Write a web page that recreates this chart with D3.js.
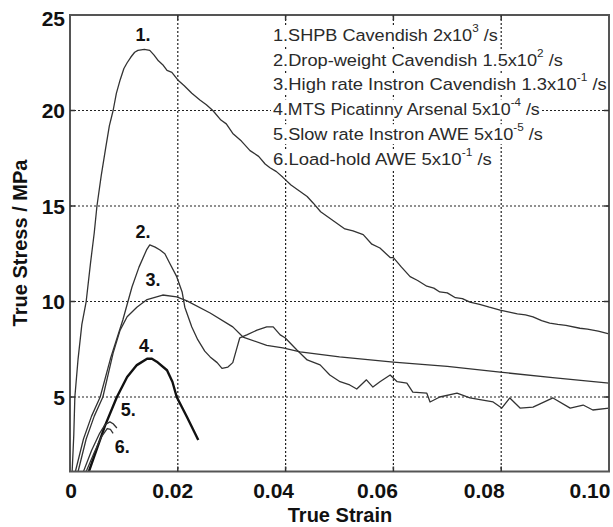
<!DOCTYPE html>
<html><head><meta charset="utf-8">
<script src="https://cdn.jsdelivr.net/npm/d3@7"></script>
<style>body{margin:0;background:#fff}svg{display:block}</style></head>
<body><svg id="c" width="613" height="527"></svg>
<script>
const xTicks = [0, 0.02, 0.04, 0.06, 0.08, 0.10];
const xTickLabels = ["0", "0.02", "0.04", "0.06", "0.08", "0.10"];
const yTicks = [5, 10, 15, 20, 25];
const yTickLabels = ["5", "10", "15", "20", "25"];
const curveNames = ["1.", "2.", "3.", "4.", "5.", "6."];
const xTitle = "True Strain";
const yTitle = "True Stress / MPa";

const curve1 = [[0.0004,1.1],[0.0007,3],[0.0009,5],[0.0015,7],[0.0022,8.8],[0.003,10],[0.0038,12],[0.0045,13.6],[0.005,15],[0.0058,16.6],[0.0066,18],[0.0073,19.2],[0.008,20],[0.0086,20.9],[0.0093,21.6],[0.01,22.2],[0.0106,22.5],[0.0113,22.8],[0.012,23.05],[0.0126,23.15],[0.0138,23.2],[0.0148,23.15],[0.0156,22.9],[0.0164,22.6],[0.0172,22.4],[0.018,22.1],[0.0189,22.0],[0.02,21.6],[0.0212,21.3],[0.0226,20.9],[0.0241,20.55],[0.0253,20.3],[0.0265,20.0],[0.028,19.5],[0.029,19.3],[0.0302,18.8],[0.0318,18.4],[0.0334,17.9],[0.035,17.6],[0.0362,17.2],[0.0371,17.0],[0.0383,16.8],[0.0395,16.5],[0.041,16.1],[0.0425,15.8],[0.044,15.5],[0.0451,15.16],[0.0465,14.7],[0.048,14.4],[0.0495,14.1],[0.051,13.8],[0.0525,13.7],[0.0544,13.5],[0.056,13.0],[0.0575,12.8],[0.0594,12.3],[0.06,12.3],[0.0615,11.8],[0.0631,11.3],[0.0645,11.1],[0.0662,10.8],[0.0675,10.7],[0.0686,10.5],[0.07,10.45],[0.0715,10.2],[0.0728,10.15],[0.0742,9.97],[0.076,9.85],[0.0778,9.7],[0.0798,9.55],[0.0815,9.45],[0.083,9.35],[0.0845,9.3],[0.0859,9.2],[0.0875,9.0],[0.089,8.87],[0.0905,8.8],[0.092,8.75],[0.0946,8.6],[0.096,8.55],[0.098,8.45],[0.1,8.3]];
const curve2 = [[0.001,1.1],[0.0025,2.8],[0.004,4.0],[0.0056,5.0],[0.0075,7.0],[0.0098,9.03],[0.0115,10.76],[0.0128,11.8],[0.0142,12.7],[0.0148,12.96],[0.0158,12.85],[0.0167,12.7],[0.0176,12.5],[0.0185,12.0],[0.0198,11.3],[0.0208,10.5],[0.0213,9.7],[0.0226,8.67],[0.0237,8.0],[0.025,7.4],[0.026,7.1],[0.0273,6.8],[0.0282,6.5],[0.0293,6.57],[0.0302,6.8],[0.0311,7.7],[0.0315,8.1],[0.0328,8.25],[0.0347,8.5],[0.0365,8.67],[0.0377,8.67],[0.039,8.25],[0.0399,8.1],[0.0421,7.46],[0.044,6.94],[0.0464,6.68],[0.0482,6.15],[0.0501,5.8],[0.0519,5.63],[0.0532,5.42],[0.055,5.9],[0.0562,5.52],[0.0575,5.8],[0.0594,6.15],[0.0607,5.8],[0.0625,5.73],[0.0636,5.26],[0.0662,5.2],[0.0668,4.74],[0.0686,5.0],[0.0718,5.2],[0.0742,4.95],[0.0766,4.84],[0.0785,4.74],[0.0801,4.42],[0.0816,4.95],[0.0835,4.42],[0.0859,4.47],[0.0896,4.95],[0.0928,4.42],[0.0952,4.58],[0.097,4.32],[0.1,4.42]];
const curve3 = [[0.0015,1.1],[0.003,2.8],[0.0045,4.0],[0.0061,5.0],[0.008,7.3],[0.0093,8.5],[0.0106,9.2],[0.0124,9.7],[0.0143,10.1],[0.0172,10.34],[0.0198,10.24],[0.0217,10.03],[0.026,9.4],[0.0302,8.67],[0.0321,8.14],[0.0365,7.7],[0.0395,7.57],[0.0427,7.36],[0.05,7.1],[0.06,6.83],[0.07,6.6],[0.0798,6.3],[0.09,6.0],[0.1,5.73]];
const curve4 = [[0.0035,1.1],[0.005,2.3],[0.0065,3.5],[0.0087,5.0],[0.0106,6.05],[0.0124,6.67],[0.0143,7.0],[0.0152,7.0],[0.0161,6.85],[0.018,6.4],[0.019,5.8],[0.0198,5.0],[0.0217,3.95],[0.0238,2.75]];
const curve5 = [[0.0025,1.1],[0.004,2.2],[0.0055,3.1],[0.0065,3.55],[0.0074,3.7],[0.008,3.6],[0.0087,3.38]];
const curve6 = [[0.003,1.1],[0.0045,2.1],[0.0058,2.9],[0.0069,3.35],[0.0075,3.3],[0.008,3.1]];
const curves = [curve1, curve2, curve3, curve4, curve5, curve6];

const legendMain = ["1.SHPB Cavendish 2x10", "2.Drop-weight Cavendish 1.5x10", "3.High rate Instron Cavendish 1.3x10", "4.MTS Picatinny Arsenal 5x10", "5.Slow rate Instron AWE 5x10", "6.Load-hold AWE 5x10"];
const legendSup = ["3", "2", "-1", "-4", "-5", "-1"];
const legendTail = [" /s", " /s", " /s", " /s", " /s", " /s"];

// ---- layout ----
const L = 70, R = 609, T = 15, B = 471.5;
const x = d3.scaleLinear().domain([0, 0.1]).range([L, R]);
const y = d3.scaleLinear().domain([1.1, 25]).range([B, T]);
const svg = d3.select("#c");
const font = "'Liberation Sans', Arial, sans-serif";
const ink = "#2a2a2a";

svg.append("defs").append("clipPath").attr("id", "clip")
  .append("rect").attr("x", L).attr("y", T).attr("width", R - L).attr("height", B - T);

// grid
const g = svg.append("g");
g.selectAll(".vg").data(xTicks.slice(1, -1)).enter().append("line")
  .attr("x1", d => x(d)).attr("x2", d => x(d)).attr("y1", T).attr("y2", B)
  .attr("stroke", "#222").attr("stroke-width", 1.2).attr("stroke-dasharray", "2,2");
g.selectAll(".hg").data(yTicks.slice(0, -1)).enter().append("line")
  .attr("y1", d => y(d)).attr("y2", d => y(d)).attr("x1", L).attr("x2", R)
  .attr("stroke", "#222").attr("stroke-width", 1.2).attr("stroke-dasharray", "2,2");

// legend (white boxes behind text)
const legendX = 273, legendY0 = 35, legendDy = 24.8;
const legendW = [225, 290, 334, 267, 270, 219];
const lg = svg.append("g");
legendMain.forEach((t, i) => {
  const yy = legendY0 + i * legendDy;
  const txt = lg.append("text").attr("x", 0).attr("y", 0)
    .attr("font-family", font).attr("font-size", 17).attr("fill", ink)
    .attr("dominant-baseline", "central");
  txt.append("tspan").text(t);
  txt.append("tspan").attr("dy", -7).attr("font-size", 11).text(legendSup[i]);
  txt.append("tspan").attr("dy", 7).text(legendTail[i]);
  const w = txt.node().getBBox().width;
  const s = legendW[i] / w;
  txt.attr("transform", `translate(${legendX},${yy}) scale(${s},1)`);
  lg.insert("rect", "text").attr("x", legendX - 2).attr("y", yy - 10)
    .attr("width", legendW[i] + 4).attr("height", 20).attr("fill", "#fff");
});

// curves
const line = d3.line().x(d => x(d[0])).y(d => y(d[1]));
const cg = svg.append("g").attr("clip-path", "url(#clip)");
curves.forEach((c, i) => {
  cg.append("path").datum(c).attr("d", line).attr("fill", "none")
    .attr("stroke", i === 3 ? "#111" : "#333")
    .attr("stroke-width", i === 3 ? 2.4 : 1.3).attr("stroke-linejoin", "round");
});

// curve labels
const labelPos = [[0.01354, 23.95], [0.01354, 13.65], [0.0154, 11.1], [0.0142, 7.65], [0.0108, 4.3], [0.0097, 2.4]];
curveNames.forEach((n, i) => {
  svg.append("text").attr("x", x(labelPos[i][0])).attr("y", y(labelPos[i][1]))
    .attr("text-anchor", "middle").attr("dominant-baseline", "central")
    .attr("font-family", font).attr("font-weight", "bold").attr("font-size", 18)
    .attr("fill", "#111").text(n);
});

// box
svg.append("rect").attr("x", L).attr("y", T).attr("width", R - L).attr("height", B - T)
  .attr("fill", "none").attr("stroke", "#555").attr("stroke-width", 2);

// ticks inward
const tk = 5;
xTicks.slice(1, -1).forEach(d => {
  svg.append("line").attr("x1", x(d)).attr("x2", x(d)).attr("y1", B).attr("y2", B - tk).attr("stroke", "#333").attr("stroke-width", 1.5);
  svg.append("line").attr("x1", x(d)).attr("x2", x(d)).attr("y1", T).attr("y2", T + tk).attr("stroke", "#333").attr("stroke-width", 1.5);
});
yTicks.slice(0, -1).forEach(d => {
  svg.append("line").attr("y1", y(d)).attr("y2", y(d)).attr("x1", L).attr("x2", L + tk).attr("stroke", "#333").attr("stroke-width", 1.5);
  svg.append("line").attr("y1", y(d)).attr("y2", y(d)).attr("x1", R).attr("x2", R - tk).attr("stroke", "#333").attr("stroke-width", 1.5);
});

// tick labels
const xLabelShift = [1, -5, -12, -16, -17, -19];
xTicks.forEach((d, i) => {
  svg.append("text").attr("x", x(d) + xLabelShift[i]).attr("y", 490)
    .attr("text-anchor", "middle").attr("dominant-baseline", "central")
    .attr("font-family", font).attr("font-weight", "bold").attr("font-size", 21)
    .attr("fill", "#111").text(xTickLabels[i]);
});
yTicks.forEach((d, i) => {
  svg.append("text").attr("x", 65).attr("y", y(d) + (d === 25 ? 3 : 0))
    .attr("text-anchor", "end").attr("dominant-baseline", "central")
    .attr("font-family", font).attr("font-weight", "bold").attr("font-size", 21)
    .attr("fill", "#111").text(yTickLabels[i]);
});

// titles
svg.append("text").attr("x", 340).attr("y", 515).attr("text-anchor", "middle")
  .attr("dominant-baseline", "central").attr("font-family", font).attr("font-weight", "bold")
  .attr("font-size", 20).attr("fill", "#111").text(xTitle);
svg.append("text").attr("transform", "translate(20,243) rotate(-90)").attr("text-anchor", "middle")
  .attr("dominant-baseline", "central").attr("font-family", font).attr("font-weight", "bold")
  .attr("font-size", 20).attr("fill", "#111").text(yTitle);
</script></body></html>
